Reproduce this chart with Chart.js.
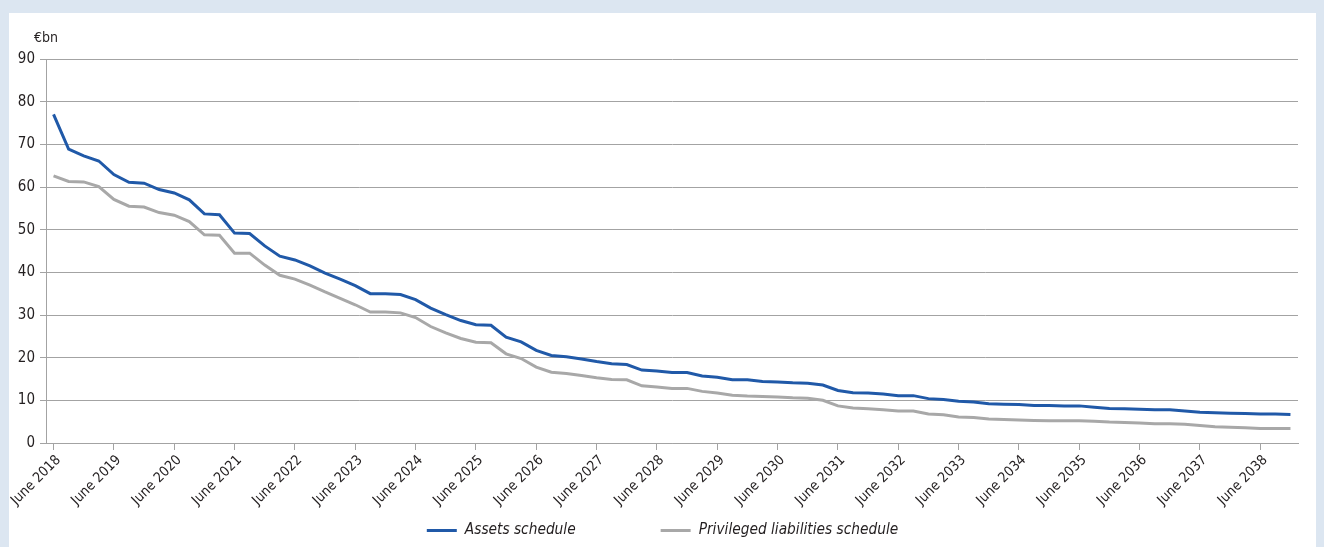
<!DOCTYPE html>
<html>
<head>
<meta charset="utf-8">
<script src="https://cdn.jsdelivr.net/npm/chart.js@4/dist/chart.umd.min.js"></script>
<style>
  html, body { margin: 0; padding: 0; background: #dce6f1; }
  body { width: 1324px; height: 547px; position: relative; overflow: hidden; }
  #panel { position: absolute; left: 9px; top: 13px; width: 1307px; height: 534px; background: #ffffff; }
  #panel canvas { display: block; }
</style>
</head>
<body>
<div id="panel"><canvas id="chart" width="1307" height="534"></canvas></div>
<script>
// Quarterly run-off schedules, €bn, June 2018 to December 2038
const quarterMonths = ['June', 'September', 'December', 'March'];
const firstYear = 2018;

const assetsSchedule = [
  77.0, 68.9, 67.3, 66.1, 62.9, 61.1, 60.9, 59.4, 58.6, 57.0,
  53.7, 53.5, 49.2, 49.1, 46.2, 43.8, 42.9, 41.5, 39.8, 38.4,
  36.9, 35.0, 35.0, 34.8, 33.6, 31.6, 30.1, 28.7, 27.7, 27.6,
  24.8, 23.7, 21.7, 20.5, 20.2, 19.7, 19.1, 18.6, 18.4, 17.1,
  16.9, 16.5, 16.5, 15.7, 15.4, 14.8, 14.8, 14.4, 14.3, 14.1,
  14.0, 13.6, 12.3, 11.8, 11.7, 11.5, 11.1, 11.1, 10.4, 10.2,
  9.8, 9.6, 9.2, 9.1, 9.0, 8.8, 8.8, 8.7, 8.7, 8.4,
  8.1, 8.0, 7.9, 7.8, 7.8, 7.5, 7.2, 7.1, 7.0, 6.9,
  6.8, 6.8, 6.7
];

const privilegedLiabilitiesSchedule = [
  62.6, 61.3, 61.2, 60.1, 57.1, 55.5, 55.3, 54.0, 53.4, 51.9,
  48.8, 48.7, 44.5, 44.5, 41.7, 39.3, 38.4, 37.0, 35.4, 33.9,
  32.4, 30.7, 30.7, 30.5, 29.4, 27.3, 25.8, 24.5, 23.6, 23.5,
  20.9, 19.8, 17.8, 16.6, 16.3, 15.8, 15.3, 14.9, 14.8, 13.4,
  13.1, 12.8, 12.8, 12.1, 11.7, 11.2, 11.0, 10.9, 10.8, 10.6,
  10.5, 10.0, 8.7, 8.2, 8.0, 7.8, 7.5, 7.5, 6.8, 6.6,
  6.1, 6.0, 5.6, 5.5, 5.4, 5.3, 5.2, 5.2, 5.2, 5.1,
  4.9, 4.8, 4.7, 4.5, 4.5, 4.4, 4.1, 3.8, 3.7, 3.6,
  3.4, 3.4, 3.4
];

const seriesNames = ['Assets schedule', 'Privileged liabilities schedule'];
const yTicks = [0, 10, 20, 30, 40, 50, 60, 70, 80, 90];
const unitLabel = '€bn';

// one label per quarter, e.g. "June 2018", "March 2019"
const quarterLabels = assetsSchedule.map((_, i) => {
  const month = quarterMonths[i % 4];
  const year = firstYear + Math.floor(i / 4) + (i % 4 === 3 ? 1 : 0);
  return month + ' ' + year;
});

const FONT = '"DejaVu Sans Condensed", "DejaVu Sans", sans-serif';
const TEXT = '#231f20';
const GRID = '#a3a3a3';
const BLUE = '#2059a8';
const GREY = '#a8a8a8';

// unit caption above the y axis and the line legend under the axis
const decorations = {
  id: 'decorations',
  afterDraw(chart) {
    const ctx = chart.ctx;
    ctx.save();
    ctx.fillStyle = TEXT;
    ctx.font = '14px ' + FONT;
    ctx.textAlign = 'left';
    ctx.textBaseline = 'alphabetic';
    ctx.fillText(unitLabel, 25, 29);

    ctx.font = 'italic 15.3px ' + FONT;
    const lineLen = 30, gap = 8, spacing = 85;
    const items = chart.data.datasets.map(ds => ({
      text: ds.label, color: ds.borderColor, width: ctx.measureText(ds.label).width
    }));
    const total = items.reduce((s, it) => s + lineLen + gap + it.width, 0) + spacing * (items.length - 1);
    let x = chart.width / 2 - total / 2;
    const y = 517.5;
    items.forEach(it => {
      ctx.strokeStyle = it.color;
      ctx.lineWidth = 3;
      ctx.beginPath();
      ctx.moveTo(x, y);
      ctx.lineTo(x + lineLen, y);
      ctx.stroke();
      ctx.fillStyle = TEXT;
      ctx.textBaseline = 'middle';
      ctx.fillText(it.text, x + lineLen + gap, y);
      x += lineLen + gap + it.width + spacing;
    });
    ctx.restore();
  }
};

new Chart(document.getElementById('chart'), {
  type: 'line',
  data: {
    labels: quarterLabels,
    datasets: [
      {
        label: seriesNames[0],
        data: assetsSchedule,
        borderColor: BLUE,
        backgroundColor: BLUE,
        borderWidth: 3,
        pointRadius: 0,
        tension: 0,
        order: 1
      },
      {
        label: seriesNames[1],
        data: privilegedLiabilitiesSchedule,
        borderColor: GREY,
        backgroundColor: GREY,
        borderWidth: 3,
        pointRadius: 0,
        tension: 0,
        order: 2
      }
    ]
  },
  options: {
    responsive: false,
    animation: false,
    layout: { padding: { left: 0, right: 18, top: 46, bottom: 0 } },
    plugins: {
      legend: { display: false },
      tooltip: { enabled: false }
    },
    scales: {
      x: {
        type: 'category',
        offset: true,
        afterFit(scale) {
          scale.height = 104;
          scale.paddingLeft = 0;
          scale.paddingRight = 0;
        },
        grid: {
          offset: false,
          drawOnChartArea: false,
          drawTicks: true,
          tickLength: 7,
          color: ctx => (ctx.index % 4 === 0 ? GRID : 'rgba(0,0,0,0)'),
          lineWidth: 1
        },
        border: { display: true, color: GRID, width: 1 },
        ticks: {
          autoSkip: false,
          minRotation: 45,
          maxRotation: 45,
          padding: 2,
          labelOffset: 5,
          color: TEXT,
          font: { family: FONT, size: 14 },
          callback(value, index) {
            return index % 4 === 0 ? this.getLabelForValue(value) : '';
          }
        }
      },
      y: {
        min: 0,
        max: 90,
        afterFit(scale) { scale.width = 37; },
        afterBuildTicks(scale) { scale.ticks = yTicks.map(v => ({ value: v })); },
        grid: {
          color: GRID,
          lineWidth: 1,
          drawTicks: true,
          tickLength: 6
        },
        border: { display: true, color: GRID, width: 1 },
        ticks: {
          padding: 5,
          color: TEXT,
          font: { family: FONT, size: 15 }
        }
      }
    }
  },
  plugins: [decorations]
});
</script>
</body>
</html>
